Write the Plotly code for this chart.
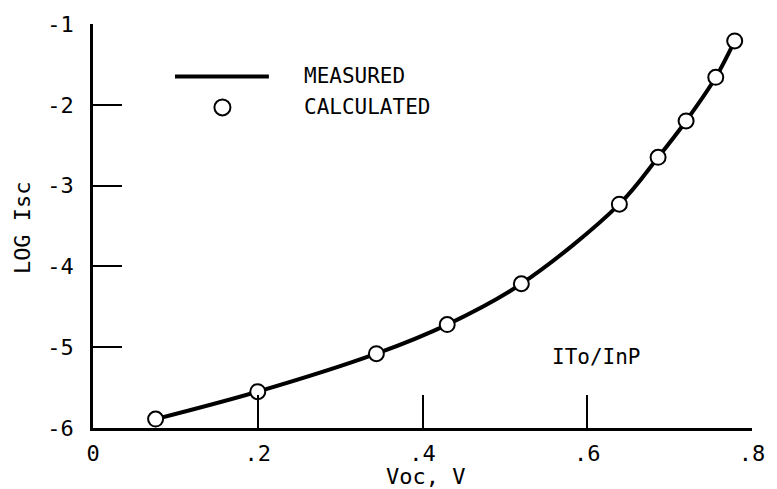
import plotly.graph_objects as go

# Calculated points (Voc, V ; LOG Isc)
calc_voc = [0.076, 0.200, 0.344, 0.430, 0.520, 0.639, 0.686, 0.720, 0.756, 0.779]
calc_log_isc = [-5.89, -5.55, -5.08, -4.72, -4.215, -3.23, -2.65, -2.20, -1.66, -1.21]

# Measured curve (smooth curve through the same region)
meas_voc = [0.076, 0.200, 0.344, 0.430, 0.520, 0.639, 0.686, 0.720, 0.756, 0.779]
meas_log_isc = [-5.89, -5.55, -5.08, -4.72, -4.215, -3.23, -2.65, -2.20, -1.66, -1.21]

x_tickvals = [0, 0.2, 0.4, 0.6, 0.8]
x_ticktext = ["0", ".2", ".4", ".6", ".8"]
y_tickvals = [-6, -5, -4, -3, -2, -1]
y_ticktext = ["-6", "-5", "-4", "-3", "-2", "-1"]

FONT = "DejaVu Sans Mono"

fig = go.Figure()
fig.add_trace(go.Scatter(
    x=meas_voc, y=meas_log_isc, mode="lines",
    line=dict(color="black", width=4, shape="spline", smoothing=1.0),
    name="MEASURED", showlegend=False, hoverinfo="skip"))
fig.add_trace(go.Scatter(
    x=calc_voc, y=calc_log_isc, mode="markers",
    marker=dict(symbol="circle", size=15, color="white",
                line=dict(color="black", width=2)),
    name="CALCULATED", showlegend=False))

fig.update_layout(
    width=777, height=489,
    margin=dict(l=93, r=17, t=21, b=61),
    paper_bgcolor="white", plot_bgcolor="white",
    font=dict(family=FONT, size=21, color="black"),
    showlegend=False,
)
fig.update_xaxes(
    range=[0, 0.8], tickvals=x_tickvals, ticktext=x_ticktext,
    showgrid=False, zeroline=False, showline=True, linecolor="black", linewidth=2.5,
    ticks="inside", ticklen=33, tickwidth=2, tickcolor="black",
    ticklabelstandoff=4,
    tickfont=dict(family=FONT, size=22),
)
fig.update_yaxes(
    range=[-6, -1], tickvals=y_tickvals, ticktext=y_ticktext,
    showgrid=False, zeroline=False, showline=True, linecolor="black", linewidth=2.5,
    ticks="inside", ticklen=29, tickwidth=2, tickcolor="black",
    ticklabelstandoff=12,
    tickfont=dict(family=FONT, size=22),
)

# Axis titles
fig.add_annotation(text="Voc, V", xref="paper", yref="paper", x=0.5045, y=0,
                   yshift=-48, showarrow=False, xanchor="center", yanchor="middle",
                   font=dict(family=FONT, size=22))
fig.add_annotation(text="LOG Isc", xref="paper", yref="paper", x=0, y=0.496,
                   xshift=-70.5, showarrow=False, textangle=-90,
                   xanchor="center", yanchor="middle",
                   font=dict(family=FONT, size=22))

# Legend (drawn manually)
fig.add_shape(type="line", xref="paper", yref="paper",
              x0=0.1244, x1=0.2669, y0=0.8698, y1=0.8698,
              line=dict(color="black", width=4))
fig.add_shape(type="circle", xref="paper", yref="paper",
              xsizemode="pixel", ysizemode="pixel",
              xanchor=0.1964, yanchor=0.7936, x0=-8, x1=8, y0=-8, y1=8,
              line=dict(color="black", width=2), fillcolor="white")
fig.add_annotation(text="MEASURED", xref="paper", yref="paper", x=0.3178, y=0.8715,
                   showarrow=False, xanchor="left", yanchor="middle",
                   font=dict(family=FONT, size=21))
fig.add_annotation(text="CALCULATED", xref="paper", yref="paper", x=0.3178, y=0.7936,
                   showarrow=False, xanchor="left", yanchor="middle",
                   font=dict(family=FONT, size=21))

# Sample label
fig.add_annotation(text="ITo/InP", x=0.611, y=-5.124, showarrow=False,
                   xanchor="center", yanchor="middle",
                   font=dict(family=FONT, size=21))

fig.write_html("out.html", config={"displayModeBar": False},
               post_script="document.body.style.margin='0px';")
